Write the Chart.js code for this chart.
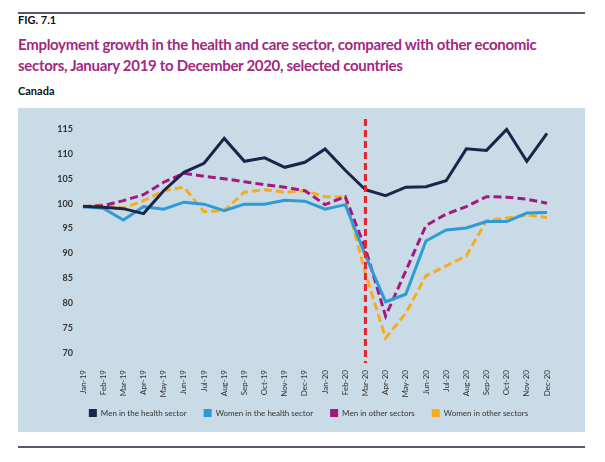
<!DOCTYPE html>
<html>
<head>
<meta charset="utf-8">
<script src="https://cdn.jsdelivr.net/npm/chart.js@4.4.1/dist/chart.umd.min.js"></script>
<style>
  body { margin: 0; background: #fff; font-family: Lato, 'Open Sans', sans-serif; }
  .rule { position: absolute; left: 18px; width: 567px; height: 2px; background: #55596b; }
  #fig { position: absolute; left: 18px; top: 13px; font-size: 11px; font-weight: 700; color: #111; line-height: 14px; }
  #title { position: absolute; left: 18px; top: 34px; width: 580px; font-size: 15px; letter-spacing: -0.3px; font-weight: 700; color: #a3287f; line-height: 21px; white-space: nowrap; }
  #country { position: absolute; left: 18px; top: 84px; font-size: 11px; font-weight: 700; color: #111; line-height: 14px; }
  #box { position: absolute; left: 18px; top: 108px; width: 567px; height: 324px; background: #c9dbe7; }
</style>
</head>
<body>
<div class="rule" style="top:12px"></div>
<div id="fig">FIG. 7.1</div>
<div id="title">Employment growth in the health and care sector, compared with other economic<br>sectors, January 2019 to December 2020, selected countries</div>
<div id="country">Canada</div>
<div id="box"><canvas id="chart" width="567" height="324"></canvas></div>
<div class="rule" style="top:446px"></div>

<script>
// Monthly index, January 2019 = about 100
const months = ['Jan-19', 'Feb-19', 'Mar-19', 'Apr-19', 'May-19', 'Jun-19', 'Jul-19', 'Aug-19',
  'Sep-19', 'Oct-19', 'Nov-19', 'Dec-19', 'Jan-20', 'Feb-20', 'Mar-20', 'Apr-20', 'May-20',
  'Jun-20', 'Jul-20', 'Aug-20', 'Sep-20', 'Oct-20', 'Nov-20', 'Dec-20'];

const menHealth = [99.5, 99.3, 99.0, 98.0, 102.6, 106.3, 108.1, 113.1, 108.5, 109.2, 107.3, 108.3,
  111.0, 106.7, 102.8, 101.6, 103.3, 103.4, 104.6, 111.0, 110.7, 114.9, 108.5, 114.1];
const womenHealth = [99.4, 99.1, 96.7, 99.4, 98.9, 100.3, 99.9, 98.6, 99.9, 99.9, 100.7, 100.5,
  98.9, 99.8, 89.6, 80.3, 81.8, 92.5, 94.7, 95.1, 96.4, 96.4, 98.1, 98.2];
const menOther = [99.4, 99.6, 100.6, 101.8, 104.3, 106.1, 105.5, 105.0, 104.4, 103.8, 103.3, 102.6,
  99.8, 101.4, 91.0, 77.4, 86.5, 95.6, 97.9, 99.4, 101.4, 101.3, 100.9, 100.1];
const womenOther = [99.4, 99.8, 99.1, 100.6, 102.6, 103.3, 98.4, 98.6, 102.3, 102.8, 102.3, 102.6,
  101.4, 101.3, 86.0, 73.0, 78.0, 85.5, 87.5, 89.5, 96.6, 97.1, 97.7, 97.2];

const yTicks = [70, 75, 80, 85, 90, 95, 100, 105, 110, 115];
const markerMonth = 'Mar-20';

// Vertical red dashed line at the start of the pandemic
const markerLine = {
  id: 'markerLine',
  afterDatasetsDraw(chart) {
    const { ctx, chartArea, scales } = chart;
    const x = scales.x.getPixelForValue(months.indexOf(markerMonth));
    ctx.save();
    ctx.strokeStyle = '#e8232f';
    ctx.lineWidth = 3;
    ctx.setLineDash([7, 4]);
    ctx.beginPath();
    ctx.moveTo(x, chartArea.top);
    ctx.lineTo(x, chartArea.bottom);
    ctx.stroke();
    ctx.restore();
  }
};

// nudge the legend row up, closer to the tick labels
const legendNudge = {
  id: 'legendNudge',
  afterLayout(chart) {
    chart.legend.top -= 8;
    chart.legend.bottom -= 8;
  }
};

function series(label, data, color, dashed) {
  return {
    label: label,
    data: data,
    borderColor: color,
    backgroundColor: color,
    borderWidth: 3,
    borderDash: dashed ? [8, 4] : [],
    pointRadius: 0,
    tension: 0,
    fill: false
  };
}

new Chart(document.getElementById('chart'), {
  type: 'line',
  data: {
    labels: months,
    datasets: [
      series('Men in the health sector', menHealth, '#1d2449', false),
      series('Women in the health sector', womenHealth, '#2e9bd6', false),
      series('Men in other sectors', menOther, '#a3197f', true),
      series('Women in other sectors', womenOther, '#f6ac1d', true)
    ]
  },
  options: {
    responsive: false,
    animation: false,
    layout: { padding: { left: 14, right: 0, top: 11, bottom: -3 } },
    plugins: {
      tooltip: { enabled: false },
      legend: {
        position: 'bottom',
        labels: {
          boxWidth: 8,
          boxHeight: 8,
          padding: 17,
          color: '#333',
          font: { family: 'Lato', size: 8 },
          generateLabels(chart) {
            return chart.data.datasets.map((ds, i) => ({
              text: ds.label,
              fillStyle: ds.borderColor,
              strokeStyle: ds.borderColor,
              lineWidth: 0,
              lineDash: [],
              fontColor: '#333',
              datasetIndex: i
            }));
          }
        }
      }
    },
    scales: {
      x: {
        offset: false,
        grid: { display: false, drawTicks: false },
        border: { display: false },
        ticks: {
          autoSkip: false,
          minRotation: 90,
          maxRotation: 90,
          padding: 7,
          color: '#333',
          font: { family: 'Lato', size: 8 }
        },
        afterFit(scale) { scale.height = 37; }
      },
      y: {
        min: 68,
        max: 117,
        grid: { display: false, drawTicks: false },
        border: { display: false },
        ticks: {
          padding: 10,
          color: '#333',
          font: { family: 'Lato', size: 9, weight: 'bold' }
        },
        afterBuildTicks(scale) { scale.ticks = yTicks.map(v => ({ value: v })); },
        afterFit(scale) {
          scale.width = 51;
          scale.paddingTop = 0;
          scale.paddingBottom = 0;
        }
      },
      yRight: {
        position: 'right',
        grid: { display: false, drawTicks: false },
        border: { display: false },
        ticks: { display: false },
        afterFit(scale) {
          scale.width = 38;
          scale.paddingTop = 0;
          scale.paddingBottom = 0;
        }
      }
    }
  },
  plugins: [markerLine, legendNudge]
});
</script>
</body>
</html>
